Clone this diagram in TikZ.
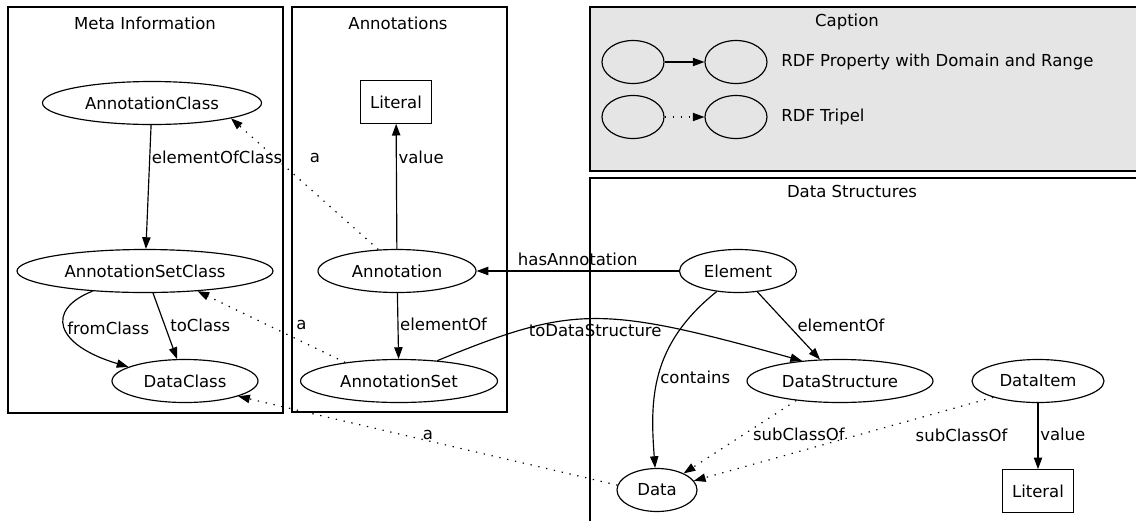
\documentclass[tikz,border=0pt]{standalone}
\usepackage{fontspec}
\setmainfont{DejaVu Sans}
\usetikzlibrary{shapes.geometric, arrows.meta}
\tikzset{
  cls/.style={
    ellipse,
    draw=black,
    line width=0.7pt,
    inner sep=2pt,
    minimum height=25.8pt
    },
  lit/.style={
    rectangle,
    draw=black,
    line width=0.7pt,
    minimum width=43pt,
    minimum height=25.5pt
    },
  group/.style={draw=black, line width=0.7pt},
  arrow/.style={line width=0.7pt,-{Triangle[length=7pt,width=5pt]}},
  triple/.style={arrow, dash pattern=on 0.8pt off 4pt},
  lbl/.style={inner sep=1pt},
}

\begin{document}
\begin{tikzpicture}[x=0.6pt, y=-0.6pt, font=\fontsize{9.9}{12}\selectfont]
\path[use as bounding box, clip] (0,0) rectangle (1136,520);
\draw[group] (8,7) rectangle (283,413);
\draw[group] (292,7) rectangle (507,412);
\draw[group, fill=black!10] (590,7) rectangle (1150,171);
\draw[group] (590,178) rectangle (1150,540);
\node (tmeta) at (145,23) {Meta Information};
\node (tann) at (398,23) {Annotations};
\node (tcap) at (847,22) {Caption};
\node (tdata) at (852,191) {Data Structures};

\node (ac) [cls, minimum width=131.4pt] at (152,103) {AnnotationClass};
\node (asc) [cls, minimum width=153.6pt] at (145,271) {AnnotationSetClass};
\node (dc) [cls, minimum width=87.6pt] at (185,381) {DataClass};
\node (lit1) [lit] at (396,102) {Literal};
\node (ann) [cls, minimum width=94.8pt] at (397,271) {Annotation};
\node (aset) [cls, minimum width=118.2pt] at (399,381) {AnnotationSet};
\node (el) [cls, minimum width=70.2pt] at (738,271) {Element};
\node (ds) [cls, minimum width=111.6pt] at (840,381) {DataStructure};
\node (di) [cls, minimum width=79.2pt] at (1038,381) {DataItem};
\node (data) [cls, minimum width=48pt] at (657,490) {Data};
\node (lit2) [lit] at (1038,491) {Literal};

\node (c1) [cls, minimum width=37.2pt] at (633,62) {};
\node (c2) [cls, minimum width=37.2pt] at (736,62) {};
\node (c3) [cls, minimum width=37.2pt] at (633,117) {};
\node (c4) [cls, minimum width=37.2pt] at (736,117) {};
\node (cap1) [anchor=west, inner sep=0pt] at (781,62) {RDF Property with Domain and Range};
\node (cap2) [anchor=west, inner sep=0pt] at (781,117) {RDF Tripel};
\draw[arrow] (c1) -- (c2);
\draw[triple] (c3) -- (c4);

\draw[arrow] (ac) -- node[lbl, pos=0.26, right] {elementOfClass} (asc);
\draw[arrow] (asc.201) .. controls (45,310) and (55,345) .. node[lbl, pos=0.5, right] {fromClass} (dc.166);
\draw[arrow] (asc) -- node[lbl, pos=0.49, right=2pt] {toClass} (dc);
\draw[arrow] (ann) -- node[lbl, pos=0.73, right] {value} (lit1);
\draw[arrow] (ann) -- node[lbl, pos=0.48, right] {elementOf} (aset);
\draw[triple] (ann.131) -- node[lbl, pos=0.7, right=19.5pt] {a} (ac.349);
\draw[triple] (aset.161) -- node[lbl, pos=0.52, right=15.5pt] {a} (asc.339);
\draw[arrow] (el) -- node[lbl, midway, above=2pt] {hasAnnotation} (ann);
\draw[arrow] (aset.28) .. controls (573,305) and (601,305) .. node[pos=0.5, below, inner sep=3pt] {toDataStructure} (ds.152);
\draw[arrow] (el) -- node[lbl, pos=0.5, right=4pt] {elementOf} (ds);
\draw[arrow] (el.224) .. controls (650,345) and (650,400) .. node[lbl, pos=0.52, right] {contains} (data.95);
\draw[arrow] (di) -- node[lbl, pos=0.48, right] {value} (lit2);
\draw[triple] (ds.204) -- node[lbl, pos=0.47, right=4.5pt] {subClassOf} (data.32);
\draw[triple] (di.200) -- node[lbl, pos=0.45, right=33pt] {subClassOf} (data.14);
\draw[triple] (data.173) -- node[pos=0.5, above, inner sep=0.5pt] {a} (dc.344);
\end{tikzpicture}
\end{document}
